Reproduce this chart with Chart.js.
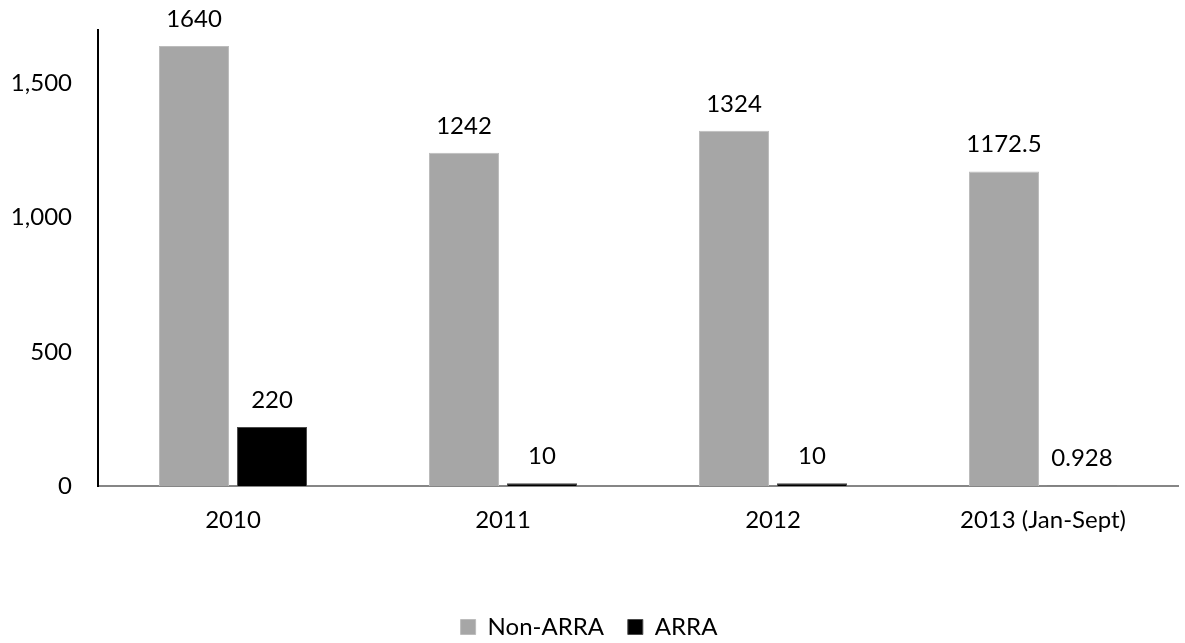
<!DOCTYPE html>
<html>
<head>
<meta charset="utf-8">
<script src="https://cdn.jsdelivr.net/npm/chart.js@4.4.1/dist/chart.umd.min.js"></script>
<style>
html,body{margin:0;padding:0;background:#fff;}
#wrap{width:1185px;height:643px;position:relative;}
</style>
</head>
<body>
<div id="wrap"><canvas id="c"></canvas></div>
<script>
const categories = ['2010', '2011', '2012', '2013 (Jan-Sept)'];
const nonArra = [1640, 1242, 1324, 1172.5];
const arra = [220, 10, 10, 0.928];
const seriesNames = ['Non-ARRA', 'ARRA'];
const yTicks = [0, 500, 1000, 1500];

const FONT = 'Lato, "Open Sans", sans-serif';

const valueLabels = {
  id: 'valueLabels',
  afterDatasetsDraw(chart) {
    const ctx = chart.ctx;
    ctx.save();
    ctx.font = '24px ' + FONT;
    ctx.fillStyle = '#000';
    ctx.textAlign = 'center';
    ctx.textBaseline = 'middle';
    chart.data.datasets.forEach((ds, i) => {
      const meta = chart.getDatasetMeta(i);
      meta.data.forEach((bar, j) => {
        ctx.fillText(String(ds.data[j]), bar.x, bar.y - 27);
      });
    });
    ctx.restore();
  }
};

new Chart(document.getElementById('c'), {
  type: 'bar',
  data: {
    labels: categories,
    datasets: [
      { label: seriesNames[0], data: nonArra, backgroundColor: '#a6a6a6', borderColor: '#bcbcbc', borderWidth: 1 },
      { label: seriesNames[1], data: arra, backgroundColor: '#000000', borderColor: '#4a4a4a', borderWidth: 1 }
    ]
  },
  options: {
    responsive: true,
    maintainAspectRatio: false,
    animation: false,
    devicePixelRatio: 1,
    categoryPercentage: 0.578,
    barPercentage: 0.897,
    layout: { padding: { top: 30, right: 7, bottom: -6, left: 0 } },
    plugins: {
      tooltip: { enabled: false },
      legend: {
        position: 'bottom',
        labels: {
          boxWidth: 15,
          boxHeight: 15,
          padding: 0,
          color: '#000',
          font: { family: FONT, size: 24, lineHeight: 1 },
          generateLabels(chart) {
            const items = Chart.defaults.plugins.legend.labels.generateLabels(chart);
            items[0].text = items[0].text + '\u00a0\u00a0\u00a0\u00a0';
            return items;
          }
        }
      }
    },
    scales: {
      x: {
        grid: { display: false, drawTicks: false },
        border: { display: true, color: '#868686', width: 2 },
        ticks: { color: '#000', font: { family: FONT, size: 24 }, padding: 20 },
        afterFit(scale) { scale.height = 129; }
      },
      y: {
        min: 0,
        max: 1700,
        grid: { display: false, drawTicks: false },
        border: { display: true, color: '#000', width: 2 },
        afterBuildTicks(scale) { scale.ticks = yTicks.map(v => ({ value: v })); },
        ticks: {
          color: '#000',
          font: { family: FONT, size: 24, lineHeight: 0.1 },
          padding: 26,
          callback: (v) => Number(v).toLocaleString('en-US')
        },
        afterFit(scale) { scale.width = 98; }
      }
    }
  },
  plugins: [valueLabels]
});
</script>
</body>
</html>
